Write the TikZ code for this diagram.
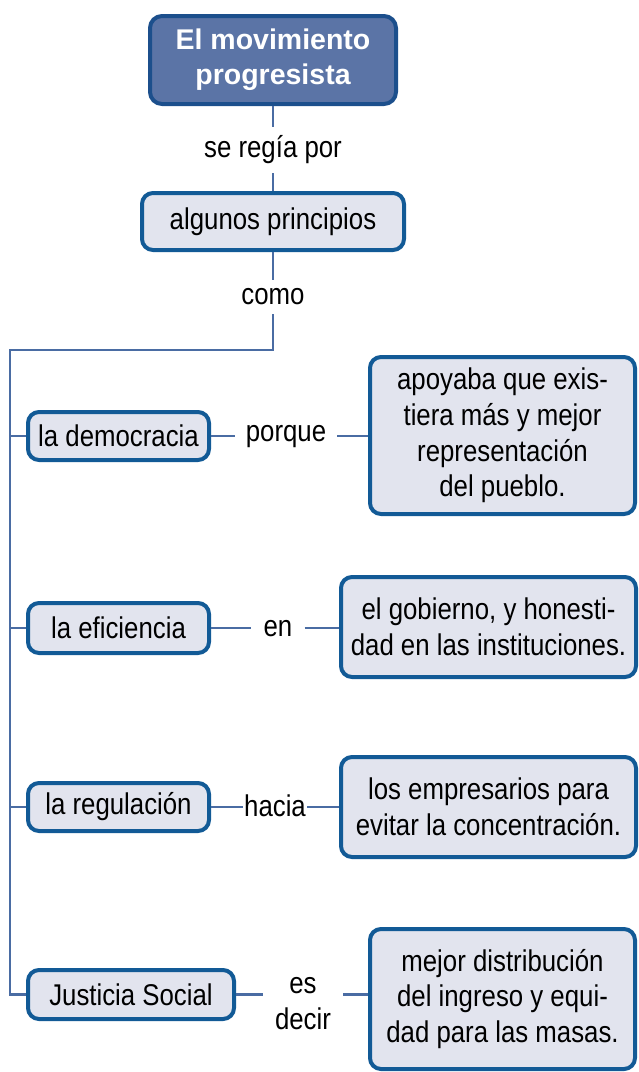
\documentclass[tikz,border=0pt]{standalone}
\usepackage{fontspec}
\setmainfont{Liberation Sans}[FakeStretch=0.86]
\newfontfamily\titlefont{Liberation Sans}
\definecolor{titlefill}{HTML}{5B74A6}
\definecolor{titleedge}{HTML}{1C4F8C}
\definecolor{boxfill}{HTML}{E2E4EE}
\definecolor{boxedge}{HTML}{125A96}
\definecolor{linec}{HTML}{4A6CA3}
\begin{document}
\begin{tikzpicture}[x=1pt,y=-1pt,
  titlebox/.style={draw=titleedge,fill=titlefill,line width=4pt,rounded corners=12pt,
    text=white,align=center,inner sep=0pt,font=\titlefont\bfseries\fontsize{28.5}{35}\selectfont},
  cbox/.style={draw=boxedge,fill=boxfill,line width=4pt,rounded corners=11pt,
    align=center,inner sep=0pt,font=\fontsize{30}{35.8}\selectfont},
  lbl/.style={inner sep=10pt,align=center,font=\fontsize{30}{36}\selectfont},
  conn/.style={draw=linec,line width=2.5pt}]
\useasboundingbox (0,0) rectangle (639,1072);
% nodes
\node[titlebox,minimum width=246pt,minimum height=88pt] (title) at (273,60) {El movimiento\\progresista};
\node[cbox,minimum width=262pt,minimum height=57pt] (princ) at (273,221.5) {algunos principios};
\node[lbl,inner sep=9pt] (rige) at (273,150) {se regía por};
\node[lbl,inner sep=9pt] (como) at (273,297) {como};
\node[cbox,minimum width=181pt,minimum height=48pt] (dem) at (118.5,436) {la democracia};
\node[cbox,minimum width=181pt,minimum height=50pt] (efi) at (118.5,628) {la eficiencia};
\node[cbox,minimum width=181pt,minimum height=48pt] (reg) at (118.5,807) {la regulación};
\node[cbox,minimum width=206pt,minimum height=49pt] (jus) at (131,994.5) {Justicia Social};
\node[lbl,inner sep=11pt] (porque) at (286,437) {porque};
\node[lbl,inner sep=12pt] (en) at (278,629) {en};
\node[lbl,inner sep=1pt] (hacia) at (275,806) {hacia};
\node[lbl,inner sep=12pt] (es) at (303,1004) {es\\decir};
\node[cbox,minimum width=265pt,minimum height=157pt] (r1) at (502.5,435.5) {apoyaba que exis-\\tiera más y mejor\\representación\\del pueblo.};
\node[cbox,minimum width=295pt,minimum height=100pt] (r2) at (488.5,627) {el gobierno, y honesti-\\dad en las instituciones.};
\node[cbox,minimum width=295pt,minimum height=100pt] (r3) at (488.5,807) {los empresarios para\\evitar la concentración.};
\node[cbox,minimum width=265pt,minimum height=140pt] (r4) at (502.5,999) {mejor distribución\\del ingreso y equi-\\dad para las masas.};
% trunk coordinates
\coordinate (t0) at (273,350);
\coordinate (t1) at (10,350);
% connectors
\draw[conn] (title.south) -- (rige.north);
\draw[conn] (rige.south) -- (princ.north);
\draw[conn] (princ.south) -- (como.north);
\draw[conn] (como.south) -- (t0) -- (t1) -- (t1 |- jus.west) -- (jus.west);
\draw[conn] (dem.west -| t1) -- (dem.west);
\draw[conn] (efi.west -| t1) -- (efi.west);
\draw[conn] (reg.west -| t1) -- (reg.west);
\draw[conn] (dem.east) -- (porque.west |- dem.east);
\draw[conn] (porque.east |- dem.east) -- (r1.west |- dem.east);
\draw[conn] (efi.east) -- (en.west |- efi.east);
\draw[conn] (en.east |- efi.east) -- (r2.west |- efi.east);
\draw[conn] (reg.east) -- (hacia.west |- reg.east);
\draw[conn] (hacia.east |- reg.east) -- (r3.west |- reg.east);
\draw[conn] (jus.east) -- (es.west |- jus.east);
\draw[conn] (es.east |- jus.east) -- (r4.west |- jus.east);
\end{tikzpicture}
\end{document}
